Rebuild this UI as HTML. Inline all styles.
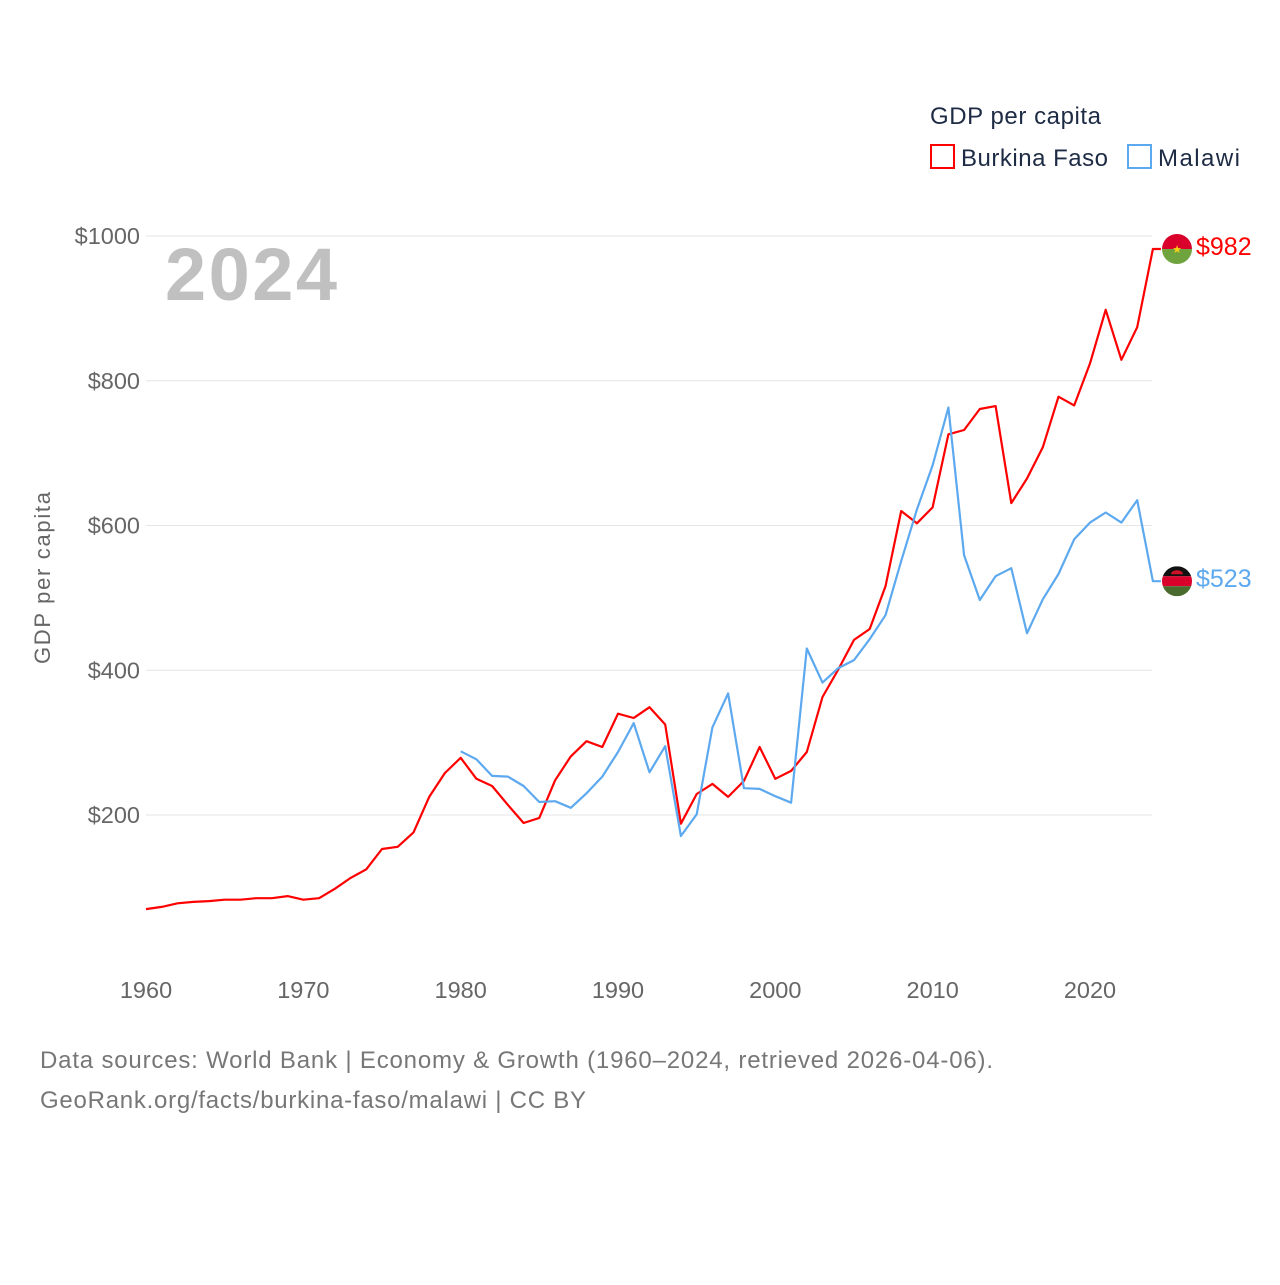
<!DOCTYPE html>
<html><head><meta charset="utf-8"><style>
body{margin:0;background:#fff;font-family:"Liberation Sans",sans-serif}
svg text{font-family:"Liberation Sans",sans-serif}
</style></head><body>
<svg id="chart" width="1280" height="1280" viewBox="0 0 1280 1280">
<text x="930" y="124" font-size="24" fill="#1d2b44" textLength="171">GDP per capita</text>
<rect x="931" y="145" width="23" height="23" fill="none" stroke="#ff0000" stroke-width="2"/>
<text x="961" y="166" font-size="24" fill="#1d2b44" textLength="147">Burkina Faso</text>
<rect x="1128" y="145" width="23" height="23" fill="none" stroke="#5da9ef" stroke-width="2"/>
<text x="1158" y="166" font-size="24" fill="#1d2b44" textLength="82">Malawi</text>
<text x="165" y="300" font-size="74" font-weight="bold" fill="#c0c0c0" textLength="172">2024</text>
<text transform="translate(50,578) rotate(-90)" text-anchor="middle" font-size="22" fill="#666" textLength="172">GDP per capita</text>
<g id="grid"></g><g id="lines"></g>
<text x="40" y="1068" font-size="24" fill="#777" textLength="953">Data sources: World Bank | Economy &amp; Growth (1960–2024, retrieved 2026-04-06).</text>
<text x="40" y="1108" font-size="24" fill="#777" textLength="546">GeoRank.org/facts/burkina-faso/malawi | CC BY</text>
</svg>
<script>
const bfStart=1960;
const bfValues=[70,73,78,80,81,83,83,85,85,88,83,85,98,113,125,153,156,176,225,258,279,250,240,214,189,196,248,281,302,294,340,334,349,325,188,229,243,225,247,294,250,261,287,363,401,442,457,516,620,603,625,726,732,761,765,631,665,708,778,766,824,898,829,874,982];
const mwStart=1980;
const mwValues=[288,277,254,253,240,218,219,210,230,253,287,327,259,295,171,201,321,368,237,236,226,217,430,383,403,414,443,476,551,622,683,763,559,497,530,541,451,498,533,581,604,618,604,635,523];
const yTicks=[200,400,600,800,1000];
const xTicks=[1960,1970,1980,1990,2000,2010,2020];
const NS='http://www.w3.org/2000/svg';
const X=y=>146+(y-1960)*15.733;
const Y=v=>959.75-v*0.72375;
const grid=document.getElementById('grid'),lines=document.getElementById('lines');
function mk(t,a,p){const e=document.createElementNS(NS,t);for(const k in a)e.setAttribute(k,a[k]);p.appendChild(e);return e;}
yTicks.forEach(v=>{
 const l=mk('line',{x1:146,x2:1152,y1:Y(v),y2:Y(v),stroke:'#e6e6e6','stroke-width':1},grid);
 
 
 const t=mk('text',{x:140,y:Y(v)+8,'text-anchor':'end','font-size':23.5,fill:'#666'},grid);
 t.textContent='$'+v;
 
 
});
xTicks.forEach(v=>{
 const t=mk('text',{x:X(v),y:998,'text-anchor':'middle','font-size':23.5,fill:'#666'},grid);
 t.textContent=v;
 
 
});
function series(start,vals,color,name){
 let d=vals.map((v,i)=>(i?'L':'M')+X(start+i).toFixed(1)+','+Y(v).toFixed(1)).join(' ');
 const last=vals[vals.length-1];
 d+=' L'+(X(start+vals.length-1)+8).toFixed(1)+','+Y(last).toFixed(1);
 const p=mk('path',{d:d,fill:'none',stroke:color,'stroke-width':2.2,'stroke-linejoin':'round'},lines);
 
 
 const t=mk('text',{x:1196,y:Y(last)+6,'font-size':25,fill:color},lines);
 t.textContent='$'+last;
 
 
 return Y(last);
}
const yb=series(bfStart,bfValues,'#ff0000','burkina-faso');
const ym=series(mwStart,mwValues,'#5da9ef','malawi');
function flag(cy,top,mid,bot,name){
 const g=mk('g',{},lines);
 
 
 const id='c'+name;
 const cp=mk('clipPath',{id:id},g);mk('circle',{cx:1177,cy:cy,r:15},cp);
 if(mid){mk('rect',{x:1162,y:cy-15,width:30,height:10,fill:top,'clip-path':'url(#'+id+')'},g);
  mk('rect',{x:1162,y:cy-5,width:30,height:10,fill:mid,'clip-path':'url(#'+id+')'},g);
  mk('rect',{x:1162,y:cy+5,width:30,height:10,fill:bot,'clip-path':'url(#'+id+')'},g);
  mk('path',{d:`M1171,${cy-7} a6,4 0 0 1 12,0 z`,fill:'#ce1126'},g);}
 else{mk('rect',{x:1162,y:cy-15,width:30,height:15,fill:top,'clip-path':'url(#'+id+')'},g);
  mk('rect',{x:1162,y:cy,width:30,height:15,fill:bot,'clip-path':'url(#'+id+')'},g);
  const s=mk('text',{x:1177,y:cy+4,'text-anchor':'middle','font-size':11,fill:'#fcd116'},g);s.textContent='★';}
}
flag(yb,'#d9002b',null,'#6ea33e','burkina-faso');
flag(ym,'#111','#d9002b','#4a6b2e','malawi');
</script>
</body></html>
